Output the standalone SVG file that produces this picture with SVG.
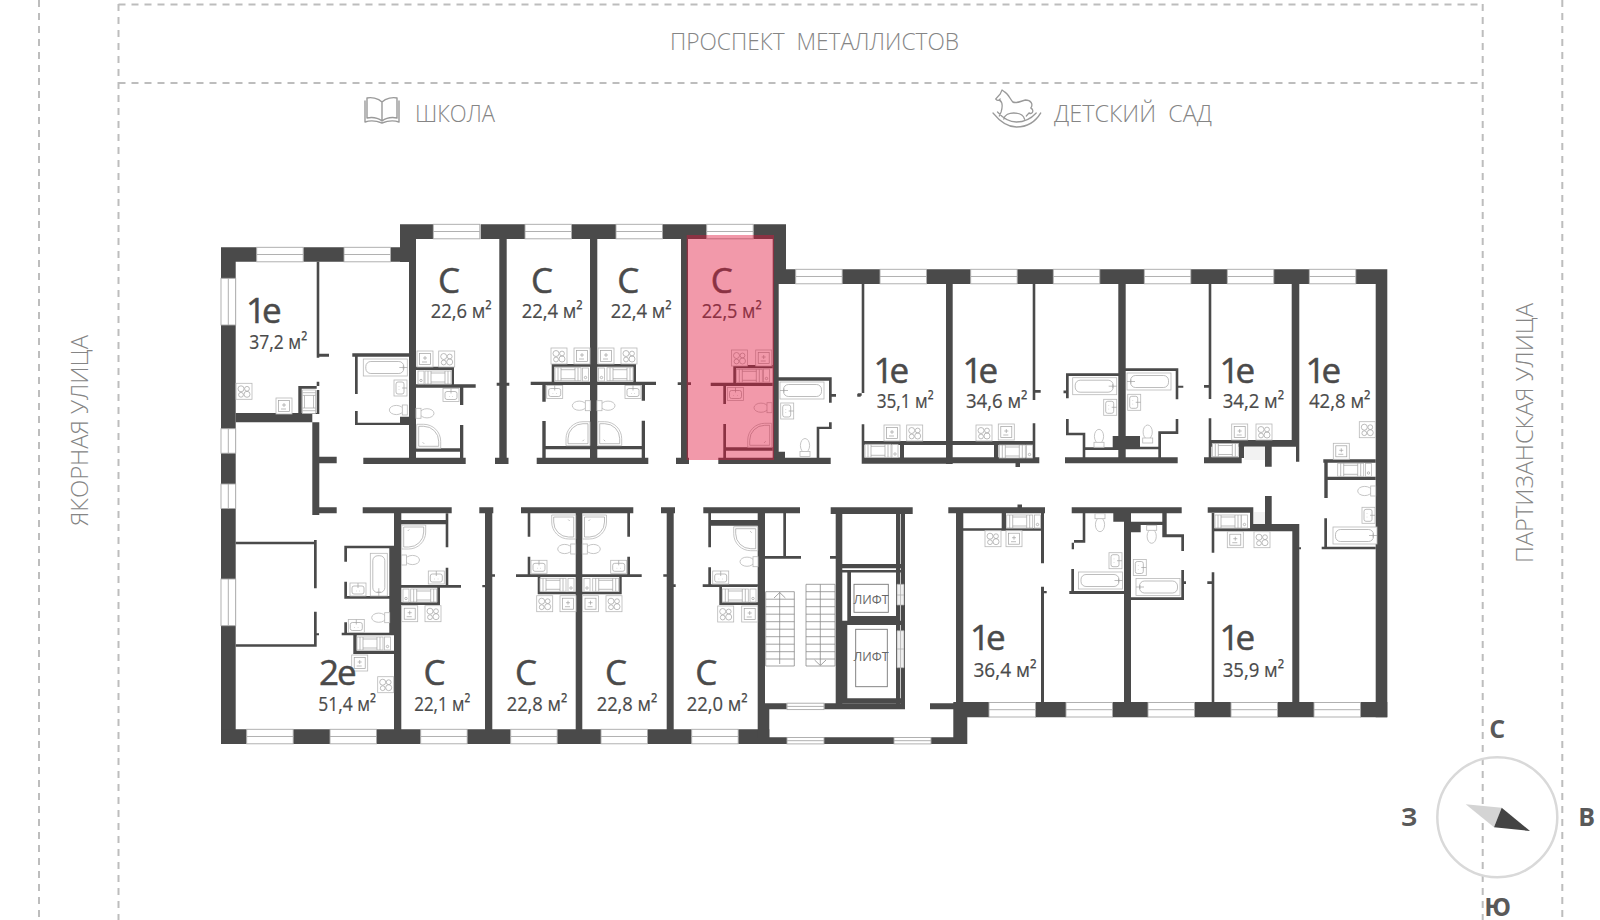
<svg xmlns="http://www.w3.org/2000/svg" xmlns:xlink="http://www.w3.org/1999/xlink" width="1600" height="920" viewBox="0 0 1600 920">
<style>
.dash{fill:none;stroke:#bdbdbd;stroke-width:2;stroke-dasharray:7 6}
.walls{fill:#4a4a4a}
.win{fill:#fff;stroke:#a8a8a8;stroke-width:.9}
.fx{fill:#fff;stroke:#b8b8b8;stroke-width:.8}
.fxd{fill:none;stroke:#a0a0a0;stroke-width:.7}
.st{fill:none;stroke:#8c8c8c;stroke-width:.8}
.big{font:400 35px "Open Sans","Liberation Sans",sans-serif;fill:#4a4a4a;stroke:#4a4a4a;stroke-width:.5}
.tight{letter-spacing:-4px}
.tight2{letter-spacing:-2px}
.area{font:400 20px "Open Sans","Liberation Sans",sans-serif;fill:#4a4a4a;stroke:#4a4a4a;stroke-width:.2}
.road{font:300 24px "Open Sans","Liberation Sans",sans-serif;fill:#858585;white-space:pre}
.lift{font:400 12.5px "Open Sans","Liberation Sans",sans-serif;fill:#666;text-anchor:middle}
.cmp{font:700 25px "Open Sans","Liberation Sans",sans-serif;fill:#595959;text-anchor:middle}
.ico{fill:none;stroke:#9a9a9a;stroke-width:1.4;stroke-linejoin:round;stroke-linecap:round}
</style>
<defs>
<g id="wh"><rect class="win" width="46.5" height="14.5"/><path class="win" d="M0 7.2H46.5"/></g>
<g id="wv"><rect class="win" width="14.7" height="46.7"/><path class="win" d="M7.3 0V46.7"/></g>
<g id="wvs"><rect class="win" width="14.7" height="24.5"/><path class="win" d="M7.3 0V24.5"/></g>
<g id="wl"><rect class="win" width="37" height="6.4"/><path class="win" d="M0 3.2H37"/></g>
<g id="stove"><rect class="fx" width="16" height="16"/><circle class="fxd" cx="5" cy="5.5" r="3"/><circle class="fxd" cx="11" cy="5.5" r="2.4"/><circle class="fxd" cx="5" cy="11.500" r="2.4"/><circle class="fxd" cx="11" cy="11" r="3"/></g>
<g id="sink"><rect class="fx" width="16" height="16"/><rect class="fxd" x="2.5" y="2.5" width="11" height="11"/><path class="fxd" d="M6 7h4M8 5v4M5 11h5"/></g>
<g id="wash"><rect class="fx" width="16" height="13"/><rect class="fxd" x="2" y="3" width="12" height="8" rx="2"/><path class="fxd" d="M8 0v5M6 8h.5M9.5 8h.5"/></g>
<g id="bath"><rect class="fx" width="44" height="17"/><rect class="fxd" x="2.5" y="2.5" width="38" height="12" rx="5"/><path class="fxd" d="M36 8.5h8M40 6.5v4"/></g>
<g id="micro"><rect class="fx" width="26" height="13"/><path class="fxd" d="M3 0V13M6 0V13M20 0V13M23 0V13M6 2H20M6 11H20"/></g>
<g id="unit"><rect class="fx" width="6" height="13"/><circle class="fxd" cx="3" cy="9.5" r="1.2"/></g>
<g id="wc"><ellipse class="fx" cx="7" cy="5" rx="7" ry="4.6"/><rect class="fx" x="13" y="0" width="5" height="10"/></g>
<g id="shower"><path class="fx" d="M0 0H7A17 17 0 0 1 24 17V24H0Z"/><path class="fxd" d="M2 2H7A15 15 0 0 1 22 17V22H2ZM6 18l1.500 1.500"/></g>
</defs>

<g id="site-lines">
<path class="dash" d="M39 0V920M118.500 4V920M1482.700 4V920M1562.300 0V920M118.500 4.600H1482.700M118.500 83H1482.700"/>
</g>

<g id="site-labels">
<text class="road" x="670" y="50" textLength="289" lengthAdjust="spacingAndGlyphs">ПРОСПЕКТ  МЕТАЛЛИСТОВ</text>
<text class="road" x="415" y="122" textLength="80" lengthAdjust="spacingAndGlyphs">ШКОЛА</text>
<text class="road" x="1054" y="122" textLength="158" lengthAdjust="spacingAndGlyphs">ДЕТСКИЙ  САД</text>
<text class="road" transform="translate(88 526) rotate(-90)" textLength="191" lengthAdjust="spacingAndGlyphs">ЯКОРНАЯ УЛИЦА</text>
<text class="road" transform="translate(1533 563) rotate(-90)" textLength="260" lengthAdjust="spacingAndGlyphs">ПАРТИЗАНСКАЯ УЛИЦА</text>
</g>

<g id="icon-school"><path class="ico" d="M382 102C378 98 371 97 367 98V118C372 117 378 118 382 121C386 118 392 117 397 118V98C393 97 386 98 382 102ZM382 102V121M365 101V122C371 120 377 121 382 123C387 121 393 120 399 122V101"/></g>
<g id="icon-kindergarten" transform="translate(99.300 0) scale(.9 1)"><path class="ico" d="M996 99L1001 94L1003 90L1006 92C1010 94 1012 99 1015 102C1019 104 1024 101 1029 100C1035 100 1038 104 1035 108C1039 110 1037 115 1033 113L1030 116M1000 100C1004 102 1004 106 1002 112L1000 116M996 99C998 101 999 101 1001 99M993 113C1002 123 1012 127 1019 127C1030 127 1040 122 1046 113M998 112C1006 120 1012 122 1019 122C1028 122 1036 118 1041 113M1005 119C1006 115 1011 113 1016 113C1022 113 1027 115 1028 119"/></g>

<g id="walls" class="walls">
<path d="M221 247.300H256.700V261.700H235.700V744H221ZM303.300 247.300H344V261.700H303.300ZM390.700 247.300H409V261.700H390.700ZM400 224.300H433.300V239H416V262H400ZM480.700 224.300H525V239H480.700ZM571.700 224.300H616V239H571.700ZM661.700 224.300H706.700V239H661.700ZM753.300 224.300H786V284H778.700V464H772.700V239H753.300Z"/>
<path d="M778 269.300H795.700V284H778ZM841.700 269.300H880V284H841.700ZM926.700 269.300H970.700V284H926.700ZM1016.700 269.300H1053.300V284H1016.700ZM1099.300 269.300H1144.300V284H1099.300ZM1190.700 269.300H1227.300V284H1190.700ZM1273.300 269.300H1309.300V284H1273.300ZM1355.700 269.300H1387.300V717.300H1375.700V284H1355.700Z"/>
<path d="M221 729.300H246.700V744H221ZM292.700 729.300H330V744H292.700ZM376 729.300H420.700V744H376ZM466.700 729.300H510.700V744H466.700ZM556.700 729.300H601V744H556.700ZM647.300 729.300H691.700V744H647.300ZM737.300 729.300H769.300V744H737.300Z"/>
<path d="M765 703.300H786.700V709.300H769.300V737.300H787.300V744H765ZM824 737.300H894V744H824ZM930.700 737.300H967.300V744H930.700ZM824.300 703.300H905V709.300H824.300ZM930 703.300H953.300V709.300H930ZM953.300 702H989.300V717.300H967.300V744H953.300ZM1035 702H1066V717.300H1035ZM1112.300 702H1148.300V717.300H1112.300ZM1194.300 702H1231V717.300H1194.300ZM1277.300 702H1314V717.300H1277.300ZM1360 702H1387.300V717.300H1360Z"/>
<!-- upper row -->
<path d="M409 239H416V464H409ZM499.300 239H506.700V464H499.300ZM495 457.700H508.500V464H495ZM496.700 382.700H509.300V385.700H496.700ZM590 239H597.300V464H590ZM681 239H688V464H681ZM676 457.700H689V464H676ZM677.700 382.300H691V385H677.700Z"/>
<!-- apt 1e 37.2 -->
<path d="M235.700 413H298.300V386H319.300V422.300H235.700ZM301.700 388.700V413H316.700V388.700ZM316.700 261.700H319.300V357.700H316.700ZM319.300 353.700H329V356.700H319.300ZM312.300 414H319.300V515H312.300ZM319.300 456.700H336.700V463.300H319.300ZM319.300 507.300H336.700V513.300H319.300ZM316.700 381.700H319.300V390H316.700Z" fill-rule="evenodd"/>
<path d="M352.300 353.300H409V356.700H357.700V394H355V356.700H352.300ZM355 411H357.700V422.700H409V425H355ZM400 416.700H409V425H400Z"/>
<!-- C 22.6 -->
<path d="M416 366.700H454V384.300H475.700V387.700H416V384.300H451.700V370H416ZM460 387.700H463.300V405H460ZM460 425H463.300V458H460ZM416 448.300H460V451.700H416ZM363.300 457.700H465.700V464H363.300Z"/>
<!-- C 22.4 a -->
<path d="M551.700 364H590V366.700H554.300V381.700H590V385H530.700V381.700H551.700ZM542.300 385H545.700V401.700H542.300ZM542.300 421H545.700V458H542.300ZM545.700 446H590V449.300H545.700ZM536.700 457.700H590V464H536.700Z"/>
<!-- C 22.4 b -->
<path d="M597 364H636V381.700H656V385H597V381.700H633.300V366.700H597ZM641.700 385H645V400.700H641.700ZM641.700 420.700H645V458H641.700ZM597 446H641.700V449.300H597ZM590 457.700H648.300V464H590Z"/>
<!-- C 22.5 -->
<path d="M733.300 365H772.700V368.300H736V382.700H772.700V386H710.700V382.700H733.300ZM723.300 386H726V404H723.300ZM723.300 424H726V458H723.300ZM726 447.300H772.700V450.700H726ZM718.300 457.700H830.700V464H718.300Z"/>
<!-- bath next to C 22.5 -->
<path d="M778 377.300H831.700V402.700H829V380.700H778ZM831.700 394H836V396.700H831.700ZM829 422.300H831.700V429H819.300V458H816.700V426.700H829ZM778 451.700H785V458H778ZM857.300 394H860.700V396.700H857.300Z"/>
<!-- 1e 35.1 / 34.6 -->
<path d="M861.700 284H864.300V393H861.700ZM857.700 393.300H861.700V395.700H857.700ZM861.700 424.300H864.300V458H861.700ZM864.300 441H946V445H864.300ZM900 445H904V458H900ZM861.700 457.500H952.700V463.700H861.700ZM946 284H952.700V464H946ZM952.700 441H1035.300V445H952.700ZM994 445H998.300V458H994ZM1032.700 284H1035.300V400H1032.700ZM1035.300 390H1040.700V392.700H1035.300ZM1032.700 423.300H1035.300V458H1032.700ZM952.700 457.300H1039.300V463.300H952.700ZM1015.500 463H1020V467H1015.500Z"/>
<!-- middle pair upper -->
<path d="M1066 373.300H1118.300V376H1068.700V398.300H1066ZM1063.500 390.500H1066V393.300H1063.500ZM1066 419H1068.700V432.700H1085.300V457.500H1082.700V435.300H1066ZM1085.300 447.300H1118.300V450H1085.300ZM1065 457.300H1160V463.300H1065ZM1112.700 436H1140V447.300H1112.700ZM1118.300 284H1125.700V463.300H1118.300ZM1125.700 368.300H1178.300V399.300H1175.700V371H1125.700ZM1178.300 385.700H1183.300V387.700H1178.300ZM1175.700 419H1178.300V434H1161V457.500H1158.300V431.300H1175.700ZM1125.700 446.700H1158.300V449.300H1125.700ZM1158.300 457.300H1177.700V463.300H1158.300Z"/>
<!-- 1e 34.2 and 42.8 upper -->
<path d="M1208.700 284H1211.300V399H1208.700ZM1204 385H1208.700V387.700H1204ZM1208.700 418.300H1211.300V458.300H1208.700ZM1211.300 440H1291.700V284H1299.300V461.700H1296V446.700H1271.700V466.700H1265V446.700H1211.300ZM1204 457.300H1241.700V463.300H1204ZM1239 446.700H1244V458H1239Z"/>
<path d="M1323.300 459.300H1375.700V462.700H1327.700V476.700H1375.700V480H1327.700V498H1324.300V462.700H1323.300ZM1324.300 518.300H1327V546.700H1375.700V549.300H1321.700V546.700H1324.300Z"/>
<!-- lower left 2e -->
<path d="M314 540H316.700V588.300H314ZM314 611.700H316.700V646.700H314ZM235.700 541.700H316V544.300H235.700ZM235.700 644.300H316V646.700H235.700ZM316.700 633.300H319V635.300H316.700Z"/>
<path d="M362.700 507.300H451.700V513.300H362.700ZM394 513H401.300V730H394ZM344.300 545.700H394V633H389.300V548.300H347V561.700H344.300ZM344.300 581.700H347V596H389.300V598.700H344.300ZM344.300 622.300H347V632.700H394V635.300H356.700V650.700H394V654H353.300V635.300H341.700V632.700H344.300Z"/>
<!-- C 22.1 -->
<path d="M401 520H448.300V524.300H401ZM445.700 513.300H448.300V547.300H445.700ZM445.700 567.700H448.300V585H461V587.700H401V585H445.700ZM437.300 587.700H440V605H401V602.300H437.300ZM485 507.300H492.300V730H485ZM479.300 507.300H493.300V513.300H479.300ZM492.300 574.300H495V576.700H492.300ZM482.300 585H485V587.300H482.300Z"/>
<!-- C 22.8 a/b -->
<path d="M521 507.300H633.300V513.300H521ZM527.700 513H530.300V536.700H527.700ZM527.700 556.700H530.300V574.300H641.700V577H516V574.300H527.700ZM537.700 577H540.300V591.700H619.300V577H621.700V594.300H537.700ZM575.700 513H582.300V730H575.700ZM627.300 513H630V536.700H627.300ZM627.300 556.700H630V574.500H627.300ZM666.700 507.300H673.700V730H666.700ZM661 507.300H675V513.300H661ZM663.300 574.300H666.700V576.700H663.300ZM673.700 584.300H675.700V587H673.700Z"/>
<!-- C 22.0 + stairs -->
<path d="M703.300 507.300H800V513.300H703.300ZM708.300 513H711V547.300H708.300ZM708.300 520H757.700V525.700H708.300ZM708.300 567.300H711V584.300H757.700V587H702.700V584.300H708.300ZM719.300 587H722V602.300H757.700V605H719.300ZM757.700 513H765V738H757.700ZM783.300 513H786V556.700H783.300ZM765 556H801V558.700H765ZM830 556H836V558.700H830Z"/>
<!-- lifts -->
<path d="M830.700 507.300H912.700V514H830.700ZM835.700 507.300H842.300V709H835.700ZM896 507.300H900V709H896ZM900.700 507.300H905V709H900.700ZM835.700 564H905V568.300H835.700ZM842 570H905V572.500H842ZM847.300 570H851V620.700H847.300ZM847.300 616H896V620.700H847.300ZM842.300 620.700H905V625H842.300ZM842.300 620.700H847.300V703.300H842.300ZM842.300 698.300H905V703.300H842.300Z"/>
<!-- 1e 36.4 -->
<path d="M948.300 507.300H1045V513.300H948.300ZM956 507.300H963.300V703H956ZM1001.700 513H1006V528.300H1001.700ZM963 528.300H1044V530.700H963ZM1041 513H1044V563.300H1041ZM1041 586.700H1044V702.300H1041ZM1044 591H1046.700V593.300H1044ZM1017.500 504.500H1022V508H1017.500Z"/>
<!-- middle pair lower -->
<path d="M1071.700 507.300H1124V513.300H1071.700ZM1082.700 513H1085.300V542.700H1071.700V549.300H1074V540H1082.700ZM1071.300 569H1074V591H1124V594H1069.300V591H1071.300ZM1124 507.300H1131V703.300H1124ZM1113.300 513H1124V521.700H1113.300ZM1131 507.300H1181.700V513.300H1131ZM1162.300 513H1166.700V534.300H1184V551H1181.300V537.300H1162.300ZM1131 521.700H1162.300V525H1131ZM1131 525H1140.700V532.300H1131ZM1181.300 570H1184V600H1131V597.300H1181.300ZM1184 581.300H1186V584H1184Z"/>
<!-- 1e 35.9 -->
<path d="M1207.700 507.300H1253.300V512.700H1207.700ZM1211.700 513H1214.300V552.700H1211.700ZM1211.700 572.300H1214.300V702.300H1211.700ZM1207.300 581.300H1211.700V584H1207.300ZM1214.300 528.300H1253V531.300H1214.300ZM1250 510H1253.300V531.300H1250ZM1265 496H1271.700V531.300H1265ZM1253 524H1299.300V531.300H1253ZM1292.300 524H1299.300V702.300H1292.300ZM1299.300 547.300H1301V549.300H1299.300Z"/>
</g>

<g id="windows">
<use href="#wh" x="256.700" y="247.300"/><use href="#wh" x="344" y="247.300"/>
<use href="#wh" x="433.300" y="224.300"/><use href="#wh" x="525" y="224.300"/><use href="#wh" x="616" y="224.300"/><use href="#wh" x="706.700" y="224.300"/>
<use href="#wh" x="795.700" y="269.300"/><use href="#wh" x="880" y="269.300"/><use href="#wh" x="970.700" y="269.300"/><use href="#wh" x="1053.300" y="269.300"/><use href="#wh" x="1144.300" y="269.300"/><use href="#wh" x="1227.300" y="269.300"/><use href="#wh" x="1309.300" y="269.300"/>
<use href="#wh" x="246.700" y="729.300"/><use href="#wh" x="330" y="729.300"/><use href="#wh" x="420.700" y="729.300"/><use href="#wh" x="510.700" y="729.300"/><use href="#wh" x="601" y="729.300"/><use href="#wh" x="691.700" y="729.300"/>
<use href="#wh" x="989" y="702.500"/><use href="#wh" x="1066" y="702.500"/><use href="#wh" x="1148" y="702.500"/><use href="#wh" x="1231" y="702.500"/><use href="#wh" x="1314" y="702.500"/>
<use href="#wl" x="787" y="703.200"/><use href="#wl" x="787" y="737.500"/><use href="#wl" x="894" y="737.500"/>
<use href="#wv" x="221" y="278.300"/><use href="#wvs" x="221" y="428.700"/><use href="#wvs" x="221" y="484"/><use href="#wv" x="221" y="579"/>
</g>

<g id="stairs" class="st">
<path d="M765.700 591.700H794.300V666H765.700ZM765.700 599.200H794.300M765.700 606.700H794.300M765.700 614.200H794.300M765.700 621.700H794.300M765.700 629.200H794.300M765.700 636.700H794.300M765.700 644.200H794.300M765.700 651.700H794.300M765.700 659H794.300M779.700 592V664M774 598L779.700 592.500L785.400 598"/>
<path d="M806 584.300H835V666H806ZM806 591.700H835M806 599.200H835M806 606.700H835M806 614.200H835M806 621.700H835M806 629.200H835M806 636.700H835M806 644.200H835M806 651.700H835M806 659H835M820.300 584.300V665M814.600 660L820.300 665.500L826 660"/>
</g>

<g id="lift-1">
<rect x="854" y="584.300" width="34.300" height="28" fill="#fff" stroke="#777" stroke-width=".9"/>
<text class="lift" x="871" y="603.500">ЛИФТ</text>
<path d="M897 584.300H904V605H897ZM900.500 584.300V605M897 595H904" fill="#eee" stroke="#aaa" stroke-width=".7"/>
</g>
<g id="lift-2">
<rect x="855.700" y="629.300" width="31.600" height="57.400" fill="#fff" stroke="#777" stroke-width=".9"/>
<text class="lift" x="871" y="661">ЛИФТ</text>
<path d="M897 630.700H904V667.700H897ZM900.500 630.700V667.700M897 649H904" fill="#eee" stroke="#aaa" stroke-width=".7"/>
</g>

<g id="fixtures">
<rect x="1244.300" y="446.700" width="20.700" height="13.300" fill="#f2f2f2"/>
<rect x="1254" y="512" width="11" height="12" fill="#f2f2f2"/>
<use href="#stove" x="438.700" y="351"/><use href="#stove" x="551" y="348"/><use href="#stove" x="621" y="348"/><use href="#stove" x="731.500" y="350"/><use href="#stove" x="906.700" y="425"/><use href="#stove" x="976" y="425"/><use href="#stove" x="1256" y="424"/><use href="#stove" x="1359.300" y="421.700"/><use href="#stove" x="236" y="383.300"/><use href="#stove" x="377.700" y="676.700"/><use href="#stove" x="425" y="605.700"/><use href="#stove" x="536.700" y="595.700"/><use href="#stove" x="606" y="595.700"/><use href="#stove" x="717.700" y="606"/><use href="#stove" x="985" y="530.700"/><use href="#stove" x="1254" y="531.700"/>
<use href="#sink" x="417" y="351"/><use href="#sink" x="574" y="348"/><use href="#sink" x="598" y="348"/><use href="#sink" x="755.700" y="350"/><use href="#sink" x="884" y="425"/><use href="#sink" x="998.300" y="424"/><use href="#sink" x="1231.700" y="424"/><use href="#sink" x="1333.300" y="443.300"/><use href="#sink" x="276" y="398"/><use href="#sink" x="351.700" y="655"/><use href="#sink" x="401.700" y="605.700"/><use href="#sink" x="560" y="595.700"/><use href="#sink" x="582.500" y="595.700"/><use href="#sink" x="741.700" y="606"/><use href="#sink" x="1006" y="530.700"/><use href="#sink" x="1227.300" y="531.700"/>
<use href="#wash" x="443" y="388.500"/><use href="#wash" x="546.700" y="385.500"/><use href="#wash" x="625" y="385.500"/><use href="#wash" x="727.500" y="387.500"/><use href="#wash" x="350" y="583"/><use href="#wash" x="348.300" y="619.500"/><use href="#wash" x="428.300" y="571"/><use href="#wash" x="531" y="560.300"/><use href="#wash" x="610.700" y="560.300"/><use href="#wash" x="712.700" y="571"/>
<use href="#wash" transform="translate(407 380) rotate(90)"/><use href="#wash" transform="translate(793.700 403) rotate(90)"/><use href="#wash" transform="translate(1116.700 399.300) rotate(90)"/><use href="#wash" transform="translate(1140.700 394.300) rotate(90)"/><use href="#wash" transform="translate(1375 507.300) rotate(90)"/><use href="#wash" transform="translate(1122 552.700) rotate(90)"/><use href="#wash" transform="translate(1146.300 559.500) rotate(90)"/>
<use href="#micro" x="425" y="371"/><use href="#micro" x="555" y="367.700"/><use href="#micro" x="607" y="367.700"/><use href="#micro" x="736.300" y="369.300"/><use href="#micro" x="865" y="444.300"/><use href="#micro" x="999.300" y="445"/><use href="#micro" x="1212.300" y="443.500"/><use href="#micro" x="1337.700" y="463.300"/><use href="#micro" x="357" y="637"/><use href="#micro" x="410.700" y="589"/><use href="#micro" x="540" y="578.300"/><use href="#micro" x="592.700" y="578.300"/><use href="#micro" x="722.300" y="589"/><use href="#micro" x="1006.700" y="515"/><use href="#micro" x="1215" y="515"/><use href="#micro" transform="translate(315.500 390) rotate(90) scale(.9 1)"/>
<use href="#unit" x="418" y="371"/><use href="#unit" x="582.500" y="368"/><use href="#unit" x="598.500" y="368"/><use href="#unit" x="763.500" y="369"/><use href="#unit" x="892" y="444.500"/><use href="#unit" x="1026.500" y="445"/><use href="#unit" x="1365.500" y="463.500"/><use href="#unit" x="384.500" y="637"/><use href="#unit" x="403" y="589"/><use href="#unit" x="568" y="578.500"/><use href="#unit" x="584" y="578.500"/><use href="#unit" x="750" y="589"/><use href="#unit" x="1034.500" y="515"/><use href="#unit" x="1241.500" y="515"/>
<use href="#bath" x="363.300" y="359"/><use href="#bath" transform="translate(824 382) scale(-1 1)" /><use href="#bath" x="1072.700" y="377.700"/><use href="#bath" transform="translate(1171 373) scale(-1 1)"/><use href="#bath" transform="translate(1377 527) scale(1 1)" x="-44"/><use href="#bath" x="1078.500" y="572"/><use href="#bath" transform="translate(1180 578.500) scale(-1 1)"/><use href="#bath" transform="translate(387.300 553.300) rotate(90) scale(.97 1)"/>
<use href="#wc" x="389.300" y="405"/><use href="#wc" transform="translate(434 408.300) scale(-1 1)"/><use href="#wc" x="572.300" y="400.700"/><use href="#wc" transform="translate(615 400.700) scale(-1 1)"/><use href="#wc" x="754" y="402.700"/><use href="#wc" transform="translate(810 438.500) rotate(90)"/><use href="#wc" transform="translate(1104 429.300) rotate(90)"/><use href="#wc" transform="translate(1152.700 425) rotate(90)"/><use href="#wc" x="1357.700" y="486"/><use href="#wc" x="371.700" y="612.700"/><use href="#wc" transform="translate(419.500 555) scale(-1 1)"/><use href="#wc" x="557.700" y="544"/><use href="#wc" transform="translate(600.300 544) scale(-1 1)"/><use href="#wc" x="740" y="556.700"/><use href="#wc" transform="translate(1095 531.700) rotate(-90)"/><use href="#wc" transform="translate(1146.700 543.300) rotate(-90)"/>
<use href="#shower" x="416.700" y="424.300"/><use href="#shower" transform="translate(590 421.700) scale(-1 1)"/><use href="#shower" x="597.700" y="421.700"/><use href="#shower" transform="translate(771.700 423.300) scale(-1 1)"/><use href="#shower" transform="translate(401.700 549) scale(1 -1)"/><use href="#shower" transform="translate(575.700 539) scale(-1 -1)"/><use href="#shower" transform="translate(582.500 539) scale(1 -1)"/><use href="#shower" transform="translate(757.700 550.700) scale(-1 -1)"/>
</g>

<g id="apt-1e-37-2"><text class="big tight" x="246" y="322.700">1е</text><text class="area" x="249.300" y="349.300" textLength="58" lengthAdjust="spacingAndGlyphs">37,2 м²</text></g>
<g id="apt-c-22-6"><text class="big" text-anchor="middle" x="449" y="292.700">С</text><text class="area" x="430.700" y="318.300" textLength="61" lengthAdjust="spacingAndGlyphs">22,6 м²</text></g>
<g id="apt-c-22-4a"><text class="big" text-anchor="middle" x="542" y="292.700">С</text><text class="area" x="521.700" y="318.300" textLength="61" lengthAdjust="spacingAndGlyphs">22,4 м²</text></g>
<g id="apt-c-22-4b"><text class="big" text-anchor="middle" x="628.300" y="292.700">С</text><text class="area" x="610.700" y="318.300" textLength="61" lengthAdjust="spacingAndGlyphs">22,4 м²</text></g>
<g id="apt-c-22-5"><text class="big" text-anchor="middle" x="721.700" y="292.700">С</text><text class="area" x="701.700" y="318.300" textLength="60" lengthAdjust="spacingAndGlyphs">22,5 м²</text></g>
<g id="apt-1e-35-1"><text class="big tight" x="873.500" y="382.700">1е</text><text class="area" x="876.700" y="408.300" textLength="57" lengthAdjust="spacingAndGlyphs">35,1 м²</text></g>
<g id="apt-1e-34-6"><text class="big tight" x="962.500" y="382.700">1е</text><text class="area" x="966" y="408.300" textLength="61.500" lengthAdjust="spacingAndGlyphs">34,6 м²</text></g>
<g id="apt-1e-34-2"><text class="big tight" x="1219.500" y="382.700">1е</text><text class="area" x="1222.700" y="408.300" textLength="61.500" lengthAdjust="spacingAndGlyphs">34,2 м²</text></g>
<g id="apt-1e-42-8"><text class="big tight" x="1305.500" y="382.700">1е</text><text class="area" x="1309" y="408.300" textLength="61.500" lengthAdjust="spacingAndGlyphs">42,8 м²</text></g>
<g id="apt-2e-51-4"><text class="big tight2" x="319" y="685">2е</text><text class="area" x="318.300" y="710.700" textLength="57.700" lengthAdjust="spacingAndGlyphs">51,4 м²</text></g>
<g id="apt-c-22-1"><text class="big" text-anchor="middle" x="434.500" y="685">С</text><text class="area" x="414.300" y="710.700" textLength="56" lengthAdjust="spacingAndGlyphs">22,1 м²</text></g>
<g id="apt-c-22-8a"><text class="big" text-anchor="middle" x="526" y="685">С</text><text class="area" x="506.700" y="710.700" textLength="60.700" lengthAdjust="spacingAndGlyphs">22,8 м²</text></g>
<g id="apt-c-22-8b"><text class="big" text-anchor="middle" x="616" y="685">С</text><text class="area" x="596.700" y="710.700" textLength="60.700" lengthAdjust="spacingAndGlyphs">22,8 м²</text></g>
<g id="apt-c-22-0"><text class="big" text-anchor="middle" x="706.300" y="685">С</text><text class="area" x="686.700" y="710.700" textLength="61" lengthAdjust="spacingAndGlyphs">22,0 м²</text></g>
<g id="apt-1e-36-4"><text class="big tight" x="970" y="650">1е</text><text class="area" x="973.500" y="676.700" textLength="63" lengthAdjust="spacingAndGlyphs">36,4 м²</text></g>
<g id="apt-1e-35-9"><text class="big tight" x="1219.500" y="650">1е</text><text class="area" x="1222.700" y="676.700" textLength="61.500" lengthAdjust="spacingAndGlyphs">35,9 м²</text></g>

<rect id="highlight" x="686.700" y="235" width="87.300" height="225" fill="rgb(225,18,58)" fill-opacity=".43"/>

<g id="compass">
<circle cx="1497.300" cy="817.300" r="60" fill="none" stroke="#d9d9d9" stroke-width="2.500"/>
<path d="M1465.700 804.300L1501.700 807.700L1494 827.300Z" fill="#d4d4d4"/>
<path d="M1501.700 807.700L1530 831L1494 827.300Z" fill="#444"/>
<text class="cmp" x="1497.300" y="738">С</text>
<text class="cmp" x="1586.700" y="826">В</text>
<text class="cmp" x="1409" y="826">З</text>
<text class="cmp" x="1497.700" y="916">Ю</text>
</g>
</svg>
